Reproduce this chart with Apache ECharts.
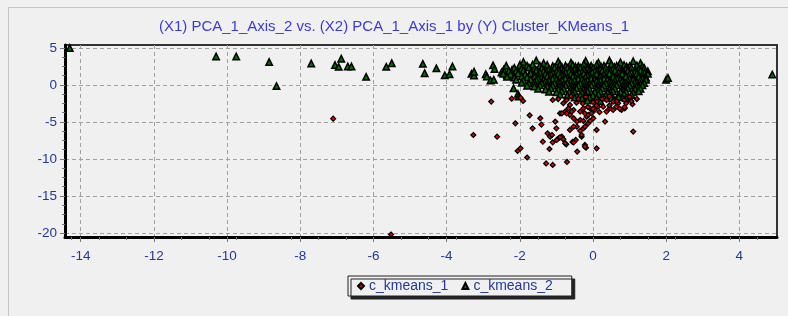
<!DOCTYPE html>
<html>
<head>
<meta charset="utf-8">
<script src="https://cdn.jsdelivr.net/npm/echarts@6/dist/echarts.min.js"></script>
<style>
  html, body { margin: 0; padding: 0; background: #f0f0f0; }
  #main { width: 788px; height: 316px; }
</style>
</head>
<body>
<div id="main"></div>
<script>
var titleText = '(X1) PCA_1_Axis_2 vs. (X2) PCA_1_Axis_1 by (Y) Cluster_KMeans_1';
var seriesNames = ['c_kmeans_1', 'c_kmeans_2'];
var xTicks = [-14, -12, -10, -8, -6, -4, -2, 0, 2, 4];
var yTicks = [-20, -15, -10, -5, 0, 5];

// c_kmeans_1 : [PCA_1_Axis_1, PCA_1_Axis_2]
var kmeans1 = [
  [-7.1,-4.55],[-5.52,-20.2],[-3.27,-6.76],[-2.62,-6.98],[-2.78,-2.25],[-2.22,-1.85],[-1.91,-2.16],
  [-1.98,-1.72],[-1.1,-2.03],[-1.73,-4.1],[-1.44,-4.5],[-2.12,-5.18],[-1.65,-5.86],[-1.03,-4.95],
  [-1.41,-5.35],[-1.0,-5.86],[-0.63,-6.08],[-1.24,-6.53],[-1.17,-6.98],[-1.12,-6.76],[-0.94,-7.2],
  [-0.85,-6.98],[-0.9,-7.07],[-0.81,-7.34],[-0.99,-7.43],[-1.37,-7.66],[-1.1,-7.75],[-0.73,-8.02],
  [-0.76,-7.88],[-0.56,-7.7],[-0.47,-7.43],[-0.53,-7.75],[-0.31,-6.98],[-0.31,-6.76],[-0.35,-6.2],
  [-0.44,-5.63],[-0.26,-5.86],[-0.53,-5.63],[-0.22,-8.1],[-0.19,-8.47],[-0.22,-8.33],[0.1,-8.56],
  [-0.43,-9.0],[-1.19,-8.65],[-1.98,-8.56],[-2.06,-8.92],[-1.8,-9.8],[-1.28,-10.6],[-1.1,-10.8],
  [-0.71,-10.4],[1.1,-6.3],[0.1,-6.08],[-0.13,-5.18],[-0.22,-5.63],[-0.44,-4.95],[-0.35,-4.73],
  [-0.26,-4.86],[-0.08,-4.86],[0.01,-4.5],[-0.17,-4.28],[-0.13,-4.05],[-0.04,-3.83],[-0.53,-4.5],
  [-0.63,-4.05],[-0.9,-3.83],[-0.76,-3.6],[-0.67,-3.15],[-0.63,-2.7],[-0.53,-3.38],[-0.81,-2.47],
  [-0.72,-2.03],[-0.35,-3.6],[-0.26,-3.15],[-0.22,-3.83],[-0.08,-3.15],[0.05,-3.38],[0.14,-2.93],
  [0.1,-2.25],[0.28,-2.93],[0.37,-3.6],[0.46,-3.15],[0.55,-3.38],[0.64,-2.93],[0.78,-3.38],
  [0.87,-3.15],[0.33,-4.95],[0.37,-2.03],[0.55,-2.25],[0.69,-2.47],[0.82,-1.8],[0.91,-2.47],
  [1.08,-2.6],[-0.85,-3.83],[-0.58,-3.6],[-0.72,-3.83],[-0.28,-2.5],[-0.14,-2.95],[0.0,-3.2],
  [0.09,-2.77],[0.18,-3.67],[0.45,-2.77],[0.73,-3.2],[0.86,-3.0],[-0.6,-1.5],[-0.4,-1.9],
  [-0.2,-1.6],[0.0,-2.3],[0.25,-1.9],[0.45,-1.5],[0.65,-2.2],[0.85,-2.0],[1.0,-1.6],[1.2,-1.9],
  [-0.95,-1.9],[1.05,-2.2],[-0.45,-2.4]
];

// c_kmeans_2 : outer points
var kmeans2Outer = [
  [-14.3,5.0],[-10.3,3.85],[-9.75,3.85],[-8.85,3.1],[-8.65,-0.15],[-7.7,2.9],[-7.05,2.7],[-6.95,2.45],
  [-6.88,3.55],[-6.7,2.5],[-6.6,2.5],[-6.2,1.1],[-5.65,2.45],[-5.5,2.95],[-4.65,2.85],[-4.6,1.6],
  [-4.28,2.25],[-4.05,1.3],[-3.92,1.45],[-3.84,2.5],[-3.32,1.5],[-3.25,1.28],[-3.25,1.8],[-2.93,1.45],
  [-2.9,1.15],[-2.8,0.6],[-2.73,2.65],[-2.69,2.15],[-2.71,0.7],[-2.5,1.7],[-2.44,2.05],[-2.37,2.6],
  [-2.35,1.35],[-2.28,1.25],[-2.21,2.05],[-2.14,1.7],[-2.17,-0.45],[-2.05,-1.2],[-2.03,-1.55],
  [-1.98,2.45],[2.0,0.7],[2.05,0.95],[4.9,1.4]
];

// c_kmeans_2 : main cloud
var kmeans2Core = [
  [-1.9,3.1],[-1.55,3.3],[-1.35,2.95],[-0.95,3.15],[-0.6,3.0],[-0.2,3.25],[0.15,3.0],[0.45,3.3],
  [0.75,3.05],[1.1,3.2],[1.3,2.95],
  [-2.0,2.7],[-1.8,2.6],[-1.65,2.75],[-1.45,2.6],[-1.25,2.7],[-1.1,2.55],[-0.9,2.75],[-0.75,2.6],
  [-0.55,2.7],[-0.4,2.55],[-0.25,2.8],[-0.05,2.6],[0.1,2.75],[0.3,2.6],[0.5,2.8],[0.65,2.6],
  [0.85,2.7],[1.0,2.55],[1.2,2.65],[1.35,2.5],
  [-0.85,2.45],[-0.48,2.5],[-0.12,2.45],[0.22,2.5],[0.58,2.45],[0.92,2.5],
  [-2.15,2.3],[-1.95,2.2],[-1.75,2.35],[-1.6,2.2],[-1.4,2.3],[-1.2,2.15],[-1.05,2.35],[-0.85,2.2],
  [-0.7,2.3],[-0.5,2.15],[-0.35,2.35],[-0.15,2.2],[0.0,2.3],[0.2,2.15],[0.35,2.35],[0.55,2.2],
  [0.7,2.35],[0.9,2.2],[1.05,2.3],[1.25,2.15],[1.4,2.3],
  [-1.3,2.05],[-0.95,2.1],[-0.6,2.05],[-0.25,2.1],[0.1,2.05],[0.45,2.1],[0.8,2.05],[1.15,2.1],
  [-2.3,1.9],[-2.1,1.85],[-1.9,1.95],[-1.7,1.8],[-1.55,1.95],[-1.35,1.85],[-1.15,1.9],[-1.0,1.8],
  [-0.8,1.95],[-0.65,1.85],[-0.45,1.9],[-0.3,1.8],[-0.1,1.95],[0.05,1.85],[0.25,1.9],[0.4,1.8],
  [0.6,1.95],[0.8,1.85],[0.95,1.9],[1.15,1.8],[1.3,1.95],[1.5,1.85],
  [-1.45,1.7],[-1.1,1.65],[-0.75,1.7],[-0.38,1.65],[-0.02,1.7],[0.35,1.65],[0.7,1.7],[1.05,1.65],[1.4,1.7],
  [-2.45,1.5],[-2.25,1.45],[-2.05,1.55],[-1.85,1.45],[-1.7,1.55],[-1.5,1.4],[-1.3,1.5],[-1.15,1.45],
  [-0.95,1.55],[-0.8,1.4],[-0.6,1.5],[-0.45,1.45],[-0.25,1.55],[-0.1,1.4],[0.1,1.5],[0.3,1.45],
  [0.45,1.55],[0.65,1.4],[0.8,1.5],[1.0,1.45],[1.2,1.55],[1.35,1.4],[1.5,1.5],
  [-1.6,1.3],[-1.2,1.25],[-0.85,1.3],[-0.5,1.25],[-0.15,1.3],[0.2,1.25],[0.55,1.3],[0.9,1.25],[1.25,1.3],
  [-2.35,1.1],[-2.15,1.0],[-1.95,1.15],[-1.8,1.05],[-1.6,1.1],[-1.4,1.0],[-1.25,1.15],[-1.05,1.05],
  [-0.9,1.1],[-0.7,1.0],[-0.55,1.15],[-0.35,1.05],[-0.2,1.1],[0.0,1.0],[0.2,1.15],[0.35,1.05],
  [0.55,1.1],[0.7,1.0],[0.9,1.15],[1.1,1.05],[1.25,1.1],[1.45,1.0],
  [-1.5,0.9],[-1.1,0.85],[-0.75,0.9],[-0.4,0.85],[-0.05,0.9],[0.3,0.85],[0.65,0.9],[1.0,0.85],[1.35,0.9],
  [-2.1,0.7],[-1.9,0.6],[-1.7,0.75],[-1.55,0.65],[-1.35,0.7],[-1.2,0.6],[-1.0,0.75],[-0.85,0.65],
  [-0.65,0.7],[-0.5,0.6],[-0.3,0.75],[-0.15,0.65],[0.05,0.7],[0.2,0.6],[0.4,0.75],[0.6,0.65],
  [0.75,0.7],[0.95,0.6],[1.1,0.75],[1.3,0.65],[1.45,0.7],
  [-1.3,0.5],[-0.95,0.45],[-0.6,0.5],[-0.25,0.45],[0.1,0.5],[0.45,0.45],[0.8,0.5],[1.15,0.45],
  [-1.95,0.3],[-1.75,0.2],[-1.6,0.35],[-1.4,0.25],[-1.25,0.3],[-1.05,0.2],[-0.9,0.35],[-0.7,0.25],
  [-0.55,0.3],[-0.35,0.2],[-0.2,0.35],[0.0,0.25],[0.15,0.3],[0.35,0.2],[0.5,0.35],[0.7,0.25],
  [0.85,0.3],[1.05,0.2],[1.2,0.35],[1.4,0.25],
  [-1.15,0.05],[-0.8,0.1],[-0.45,0.05],[-0.1,0.1],[0.25,0.05],[0.6,0.1],[0.95,0.05],[1.3,0.1],
  [-1.8,-0.1],[-1.6,-0.2],[-1.45,-0.05],[-1.25,-0.15],[-1.1,-0.1],[-0.9,-0.2],[-0.75,-0.05],[-0.55,-0.15],
  [-0.4,-0.1],[-0.2,-0.2],[-0.05,-0.05],[0.15,-0.15],[0.3,-0.1],[0.5,-0.2],[0.65,-0.05],[0.85,-0.15],
  [1.0,-0.1],[1.2,-0.2],[1.35,-0.05],
  [-0.85,-0.3],[-0.5,-0.35],[-0.15,-0.3],[0.2,-0.35],[0.55,-0.3],[0.9,-0.35],[1.25,-0.3],
  [-1.5,-0.5],[-1.3,-0.6],[-1.15,-0.45],[-0.95,-0.55],[-0.8,-0.5],[-0.6,-0.6],[-0.45,-0.45],[-0.25,-0.55],
  [-0.1,-0.5],[0.1,-0.6],[0.25,-0.45],[0.45,-0.55],[0.6,-0.5],[0.8,-0.6],[0.95,-0.45],[1.15,-0.55],[1.3,-0.5],
  [-0.55,-0.7],[-0.2,-0.75],[0.15,-0.7],[0.5,-0.75],[0.85,-0.7],
  [-1.2,-0.9],[-1.0,-1.0],[-0.85,-0.85],[-0.65,-0.95],[-0.5,-0.9],[-0.3,-1.0],[-0.15,-0.85],[0.05,-0.95],
  [0.2,-0.9],[0.4,-1.0],[0.55,-0.85],[0.75,-0.95],[0.9,-0.9],[1.1,-1.0],[1.25,-0.85],
  [-0.9,-1.3],[-0.7,-1.4],[-0.55,-1.25],[-0.35,-1.35],[-0.2,-1.3],[0.0,-1.4],[0.15,-1.25],[0.35,-1.35],
  [0.5,-1.3],[0.7,-1.4],[0.85,-1.25],[1.05,-1.35],
  [-0.5,-1.7],[-0.3,-1.8],[-0.1,-1.65],[0.1,-1.75],[0.3,-1.7],[0.5,-1.8],[0.7,-1.65],[0.9,-1.75],
  [-0.15,-2.1],[0.2,-2.15],[0.6,-2.05]
];

var kmeans2 = kmeans2Outer.concat(kmeans2Core);

var labelColor = '#22389a';
var fontFamily = '"Liberation Sans", Arial, sans-serif';

var chart = echarts.init(document.getElementById('main'));

function valueAxis(min, max, ticks) {
  return {
    type: 'value',
    min: min,
    max: max,
    axisLine: { show: true, onZero: false, lineStyle: { color: '#000', width: 3 } },
    axisTick: { show: true, length: 5, customValues: ticks, lineStyle: { color: '#777' } },
    minorTick: { show: true, splitNumber: 4, length: 3, lineStyle: { color: '#777' } },
    splitLine: { show: true, lineStyle: { color: '#a0a0a0', width: 1, type: [4, 3] } },
    axisLabel: { customValues: ticks, color: labelColor, fontSize: 13.5, fontFamily: fontFamily }
  };
}

var xAxis = valueAxis(-14.43, 5.03, xTicks);
xAxis.axisLabel.margin = 12;
var yAxis = valueAxis(-20.54, 5.4, yTicks);
yAxis.axisLabel.margin = 8;

chart.setOption({
  animation: false,
  backgroundColor: '#f0f0f0',
  title: {
    text: titleText,
    left: 'center',
    top: 19,
    padding: 0,
    textStyle: { color: '#3a3adf', fontSize: 15, fontWeight: 'normal', fontFamily: fontFamily }
  },
  graphic: [{
    type: 'rect',
    shape: { x: 8.5, y: 7.5, width: 800, height: 320 },
    style: { fill: 'none', stroke: '#c4c4c4', lineWidth: 1 },
    silent: true
  }],
  legend: {
    data: seriesNames,
    left: 348,
    top: 276,
    padding: [3, 19, 3, 9],
    itemGap: 13,
    itemWidth: 6,
    itemHeight: 6,
    backgroundColor: '#f0f0f0',
    borderColor: '#222',
    borderWidth: 1,
    shadowColor: '#222',
    shadowOffsetX: 3,
    shadowOffsetY: 3,
    shadowBlur: 0,
    textStyle: { color: labelColor, fontSize: 14, fontFamily: fontFamily }
  },
  grid: {
    left: 65, top: 45, right: 11, bottom: 79,
    show: true, borderColor: '#333', borderWidth: 2, backgroundColor: 'transparent'
  },
  xAxis: xAxis,
  yAxis: yAxis,
  series: [{
    name: seriesNames[0],
    type: 'scatter',
    symbol: 'diamond',
    symbolSize: 5,
    z: 3,
    data: kmeans1,
    itemStyle: { color: '#e00000', borderColor: '#000', borderWidth: 1.2, opacity: 1 }
  }, {
    name: seriesNames[1],
    type: 'scatter',
    symbol: 'triangle',
    symbolSize: 6.5,
    z: 2,
    data: kmeans2,
    itemStyle: { color: '#007000', borderColor: '#000', borderWidth: 1.5, opacity: 1 }
  }]
});
</script>
</body>
</html>
